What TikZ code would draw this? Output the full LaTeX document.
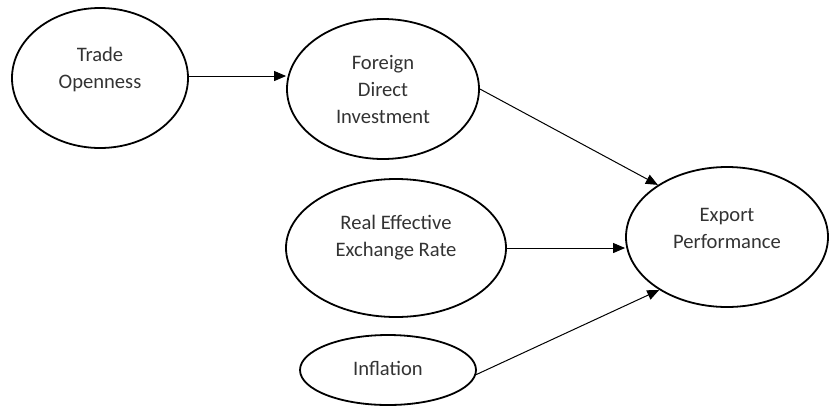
\documentclass[tikz,border=0pt]{standalone}
\usepackage{fontspec}
\setmainfont{Carlito}
\usetikzlibrary{shapes.geometric, arrows.meta}
\tikzstyle{var} = [ellipse, draw, line width=0.9pt, inner sep=0pt]
\tikzstyle{lbl} = [align=center, text=black!80, font=\fontsize{10.3}{13.5}\selectfont]
\tikzstyle{arrow} = [line width=0.5pt,->,>={Triangle[length=6pt,width=5pt]}]

\begin{document}
\begin{tikzpicture}[x=0.5pt, y=-0.5pt]
                \useasboundingbox (0,0) rectangle (830,408);

                \node (trade) [var, minimum width=88pt, minimum height=70pt] at (100,78) {};
                \node (fdi) [var, minimum width=96pt, minimum height=70pt] at (383,89) {};
                \node (reer) [var, minimum width=110pt, minimum height=69pt] at (396,248) {};
                \node (infl) [var, minimum width=88pt, minimum height=35pt] at (388,370) {};
                \node (export) [var, minimum width=101pt, minimum height=70pt] at (727,237) {};

                \node (tradetxt) [lbl] at ([yshift=4pt]trade.center) {Trade\\Openness};
                \node (fditxt) [lbl] at (fdi.center) {Foreign\\Direct\\Investment};
                \node (reertxt) [lbl] at ([yshift=5pt]reer.center) {Real Effective\\Exchange Rate};
                \node (infltxt) [lbl] at ([yshift=1pt]infl.center) {Inflation};
                \node (exporttxt) [lbl] at ([yshift=4.5pt]export.center) {Export\\Performance};

                \draw [arrow] ([yshift=1pt]trade.east) -- ([yshift=1pt]trade.east -| fdi.west);
                \draw [arrow] (fdi.east) -- (export.143);
                \draw [arrow] (reer.east) -- (reer.east -| export.west);
                \draw [arrow] (infl.-3) -- (export.218);
            \end{tikzpicture}
\end{document}
